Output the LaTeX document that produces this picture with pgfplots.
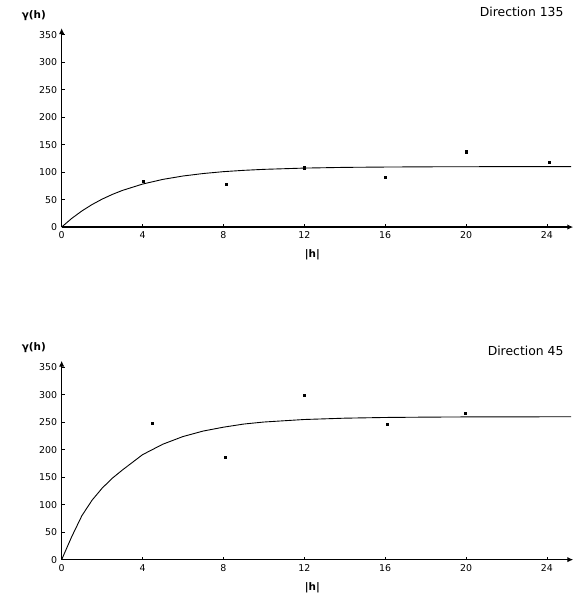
\documentclass[border=0pt]{standalone}
\usepackage{fontspec}
\setmainfont{DejaVu Sans}
\usepackage{pgfplots}
\pgfplotsset{compat=1.18}
\usetikzlibrary{arrows.meta}
\pgfplotsset{
  vario/.style={
    x=20.33bp, y=0.5526bp,
    anchor=origin,
    xmin=0, xmax=25.3, ymin=0, ymax=362,
    axis lines=left,
    axis line style={line width=1.3bp},
    every outer x axis line/.append style={-{Latex[length=6bp,width=5.5bp]}},
    every outer y axis line/.append style={-{Latex[length=6bp,width=5.5bp]}},
    tick align=inside,
    major tick length=3bp,
    tick style={line width=0.8bp, black},
    xtick={0,4,8,12,16,20,24},
    ytick={0,50,100,150,200,250,300,350},
    tick label style={font=\fontsize{9.5}{10}\selectfont},
    /pgf/number format/assume math mode=true,
    xticklabel style={yshift=-1bp},
    yticklabel style={xshift=-1bp},
    clip=false,
    xlabel={\textbf{|h|}},
    ylabel={\textbf{γ(h)}},
    xlabel style={at={(axis cs:12.4,0)}, anchor=center, yshift=-28bp, font=\fontsize{10.5}{12}\selectfont},
    ylabel style={at={(axis cs:0,385)}, anchor=center, rotate=-90, xshift=-28bp, font=\fontsize{10.5}{12}\selectfont},
  }
}
\begin{document}
\begin{tikzpicture}
\path (0,0) rectangle (576bp,596bp);
% top panel
\begin{axis}[vario, at={(62bp,367.7bp)}]
\addplot[black, line width=0.9bp, no marks] coordinates {
(0,0) (0.5,15.8) (1,29.3) (1.5,40.9) (2,50.8) (2.5,59.3) (3,66.6) (4,78.2)
(5,86.7) (6,92.9) (7,97.4) (8,100.8) (9,103.2) (10,105.0) (12,107.3)
(14,108.6) (16,109.2) (18,109.6) (20,109.8) (25.2,110.0)};
\addplot[only marks, mark=square*, mark size=1.1bp, black] coordinates {
(4.03,84) (8.15,78) (12.0,108) (16.0,91) (20.0,137) (24.1,118)};
\end{axis}
\node[anchor=east, font=\fontsize{12.5}{14}\selectfont] at (570bp,584bp) {Direction 135};
% bottom panel
\begin{axis}[vario, at={(62bp,33.3bp)}]
\addplot[black, line width=0.9bp, no marks] coordinates {
(0,0) (0.5,42) (1,80) (1.5,108) (2,130) (2.5,148) (3,163) (4,191)
(5,210) (6,224) (7,234) (8,241) (9,246.7) (10,250.4) (12,255.0)
(14,257.4) (16,258.7) (18,259.3) (20,259.7) (25.2,260)};
\addplot[only marks, mark=square*, mark size=1.1bp, black] coordinates {
(4.49,249) (8.1,187) (12.0,299) (16.1,246) (19.95,266)};
\end{axis}
\node[anchor=east, font=\fontsize{12.5}{14}\selectfont] at (570bp,243bp) {Direction 45};
\end{tikzpicture}
\end{document}
